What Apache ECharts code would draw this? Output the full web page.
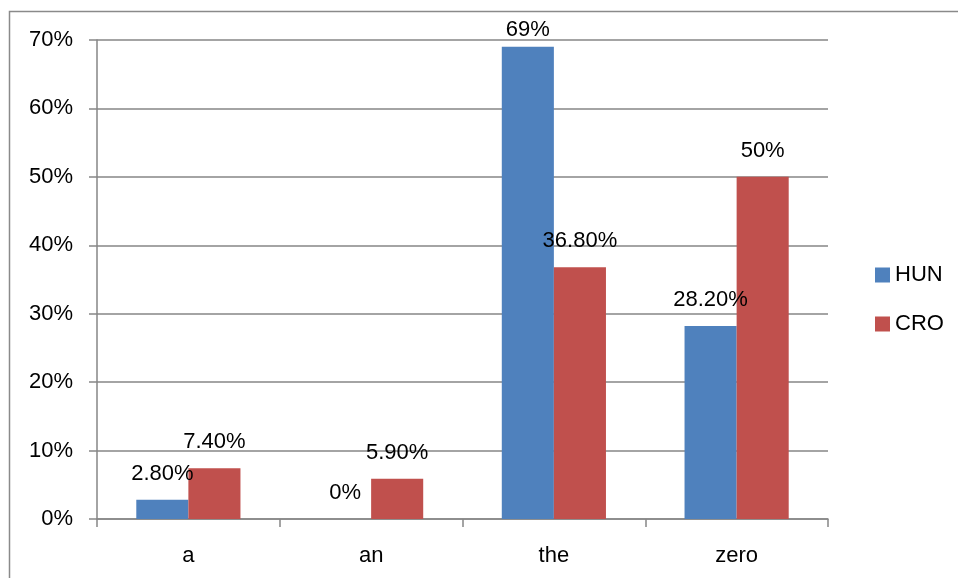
<!DOCTYPE html>
<html>
<head>
<meta charset="utf-8">
<script src="https://cdn.jsdelivr.net/npm/echarts@6/dist/echarts.min.js"></script>
<style>html,body{margin:0;padding:0;background:#fff}#c{width:958px;height:578px}</style>
</head>
<body>
<div id="c"></div>
<script>
var categories = ['a', 'an', 'the', 'zero'];
var hunValues = [2.8, 0, 69, 28.2];
var croValues = [7.4, 5.9, 36.8, 50];
var yTicks = [0, 10, 20, 30, 40, 50, 60, 70];

var FONT = 'Liberation Sans';
var FS = 22;
function fmt(v) {
  return (Math.round(v) === v ? String(v) : v.toFixed(2)) + '%';
}
function buildData(vals) {
  return vals.map(function (v) {
    var item = { value: v };
    if (v > 66) { item.label = { offset: [0, 9] }; }
    return item;
  });
}
var labelStyle = {
  show: true, position: 'top', distance: 15,
  fontFamily: FONT, fontSize: FS, color: '#000',
  formatter: function (p) { return fmt(p.value); }
};

var chart = echarts.init(document.getElementById('c'));
chart.setOption({
  animation: false,
  backgroundColor: '#fff',
  graphic: [{
    type: 'rect', left: 7, top: 9, silent: true,
    shape: { x: 0, y: 0, width: 960, height: 580 },
    style: { fill: 'none', stroke: '#8a8a8a', lineWidth: 1.5 }
  }],
  legend: {
    orient: 'vertical', left: 870, top: 259,
    itemWidth: 15, itemHeight: 15, itemGap: 27,
    icon: 'rect',
    textStyle: { fontFamily: FONT, fontSize: FS, color: '#000' },
    data: ['HUN', 'CRO']
  },
  grid: { left: 97, right: 130, top: 40, bottom: 59, containLabel: false },
  xAxis: {
    type: 'category', data: categories,
    axisLine: { lineStyle: { color: '#868686', width: 1.5 } },
    axisTick: { show: true, length: 8, alignWithLabel: false, lineStyle: { color: '#868686', width: 1.5 } },
    axisLabel: { margin: 26, fontFamily: FONT, fontSize: FS, color: '#000' }
  },
  yAxis: {
    type: 'value', min: yTicks[0], max: yTicks[yTicks.length - 1], interval: 10,
    axisLine: { show: true, lineStyle: { color: '#868686', width: 1.5 } },
    axisTick: { show: true, length: 8, lineStyle: { color: '#868686', width: 1.5 } },
    splitLine: { show: true, lineStyle: { color: '#868686', width: 1.5 } },
    axisLabel: { margin: 24, fontFamily: FONT, fontSize: FS, color: '#000', formatter: '{value}%' }
  },
  series: [{
    name: 'HUN', type: 'bar', data: buildData(hunValues),
    barGap: '0%', barCategoryGap: '43%',
    itemStyle: { color: '#4F81BD' },
    label: labelStyle
  }, {
    name: 'CRO', type: 'bar', data: buildData(croValues),
    barGap: '0%', barCategoryGap: '43%',
    itemStyle: { color: '#C0504D' },
    label: labelStyle
  }]
});
</script>
</body>
</html>
